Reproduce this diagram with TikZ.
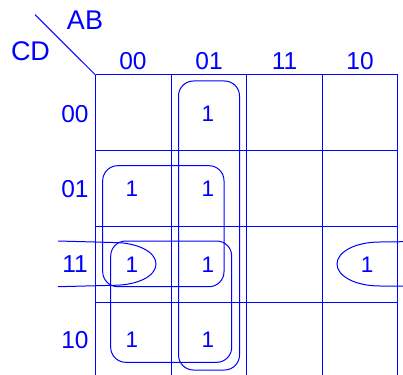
\documentclass[tikz,border=0pt]{standalone}
\usepackage{fontspec}
\setmainfont{Liberation Sans}
\definecolor{kblue}{RGB}{0,0,255}
\begin{document}
\begin{tikzpicture}[x=1pt,y=-1pt,
  gridline/.style={draw=kblue,line width=1pt},
  loop/.style={draw=kblue,line width=1pt},
  big/.style={text=kblue,font=\fontsize{27}{30}\selectfont,inner sep=0pt},
  lab/.style={text=kblue,font=\fontsize{24.5}{27}\selectfont,inner sep=0pt},
  one/.style={text=kblue,font=\fontsize{22.5}{25}\selectfont,inner sep=0pt}]
\useasboundingbox (0,0) rectangle (403,374);
% grid
\foreach \x in {95.5,171,246.7,322,397.5}
  \draw[gridline] (\x,75) -- (\x,380);
\foreach \y in {75,150.5,226,302}
  \draw[gridline] (95.5,\y) -- (397.5,\y);
\draw[kblue,line width=1pt] (35,14.7) -- (95.5,75);
% headings
\node[big] (ab) at (85,20) {AB};
\node[big] (cd) at (30.5,51) {CD};
\node[lab] (c00) at (133,61) {00};
\node[lab] (c01) at (209,61) {01};
\node[lab] (c11) at (284.5,61) {11};
\node[lab] (c10) at (360,61) {10};
\node[lab] (r00) at (75,114) {00};
\node[lab] (r01) at (75,189) {01};
\node[lab] (r11) at (75,264.5) {11};
\node[lab] (r10) at (75,340) {10};
% ones
\node[one] (m1) at (208,113.5) {1};
\node[one] (m4) at (132,189) {1};
\node[one] (m5) at (208,189) {1};
\node[one] (m12) at (132,264.5) {1};
\node[one] (m13) at (208,264.5) {1};
\node[one] (m14) at (367,264.5) {1};
\node[one] (m8) at (132,340) {1};
\node[one] (m9) at (208,340) {1};
% loops
\draw[loop,rounded corners=15pt] (178.5,81) rectangle (239.5,370);
\draw[loop,rounded corners=15pt] (102.7,165.7) rectangle (224,286.7);
\draw[loop,rounded corners=15pt] (110.7,241) rectangle (231.7,362.3);
\draw[loop] (58,241) -- (113,242.5) .. controls (138,242.5) and (156,252) .. (156,264)
  .. controls (156,276) and (138,285.3) .. (113,285.3) -- (58,286.7);
\draw[loop] (403,241.7) -- (380,242) .. controls (355,242) and (337,252) .. (337,264)
  .. controls (337,276) and (355,286) .. (380,286) -- (403,286);
\end{tikzpicture}
\end{document}
